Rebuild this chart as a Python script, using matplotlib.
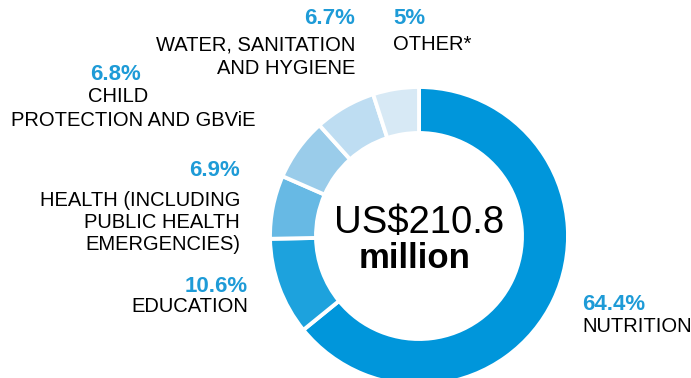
import matplotlib
matplotlib.use("Agg")
import matplotlib.pyplot as plt

categories = ["NUTRITION", "EDUCATION", "HEALTH (INCLUDING\nPUBLIC HEALTH\nEMERGENCIES)",
              "CHILD\nPROTECTION AND GBViE", "WATER, SANITATION\nAND HYGIENE", "OTHER*"]
values = [64.4, 10.6, 6.9, 6.8, 6.7, 5.0]
pct_labels = ["64.4%", "10.6%", "6.9%", "6.8%", "6.7%", "5%"]
colors = ["#0096DB", "#1DA2DD", "#67B9E4", "#9ACCEA", "#BEDDF2", "#D7E9F5"]
center_line1 = "US$210.8"
center_line2 = "million"

W, H = 691, 378
fig = plt.figure(figsize=(W / 100, H / 100), dpi=100)
ax = fig.add_axes([0, 0, 1, 1])

cx, cy, R = 419, H - 236, 149
ax.pie(values, colors=colors, startangle=90, counterclock=False, center=(cx, cy),
       radius=R, wedgeprops=dict(width=46, edgecolor="white", linewidth=2.8),
       frame=True)
ax.set_xlim(0, W)
ax.set_ylim(0, H)
ax.set_aspect("equal")
ax.axis("off")

fam = "Liberation Sans"
ax.text(419, H - 223, center_line1, ha="center", va="center", fontsize=27.5,
        family=fam, color="black")
ax.text(415, H - 259, center_line2, ha="center", va="center", fontsize=25,
        family=fam, fontweight="bold", color="black")

blue = "#1E9BD7"

def lab(x, y, s, ha, bold=False, color="black"):
    ax.text(x, H - y, s, ha=ha, va="center", fontsize=16 if bold else 14.5,
            family=fam, fontweight="bold" if bold else "normal", color=color)

# Nutrition
lab(582, 305, pct_labels[0], "left", True, blue)
lab(582, 327, categories[0], "left")
# Education
lab(248, 286, pct_labels[1], "right", True, blue)
lab(248, 307, categories[1], "right")
# Health
lab(240, 170, pct_labels[2], "right", True, blue)
hl = categories[2].split("\n")
for i, s in enumerate(hl):
    lab(240, 200 + 22 * i, s, "right")
# Child protection
cl = categories[3].split("\n")
lab(116, 75, pct_labels[3], "center", True, blue)
lab(118, 97, cl[0], "center")
lab(133, 121, cl[1], "center")
# WASH
wl = categories[4].split("\n")
lab(355, 18, pct_labels[4], "right", True, blue)
lab(355, 45, wl[0], "right")
lab(355, 68, wl[1], "right")
# Other
lab(393, 18, pct_labels[5], "left", True, blue)
lab(393, 45, categories[5], "left")

fig.savefig("out.png", dpi=100)
